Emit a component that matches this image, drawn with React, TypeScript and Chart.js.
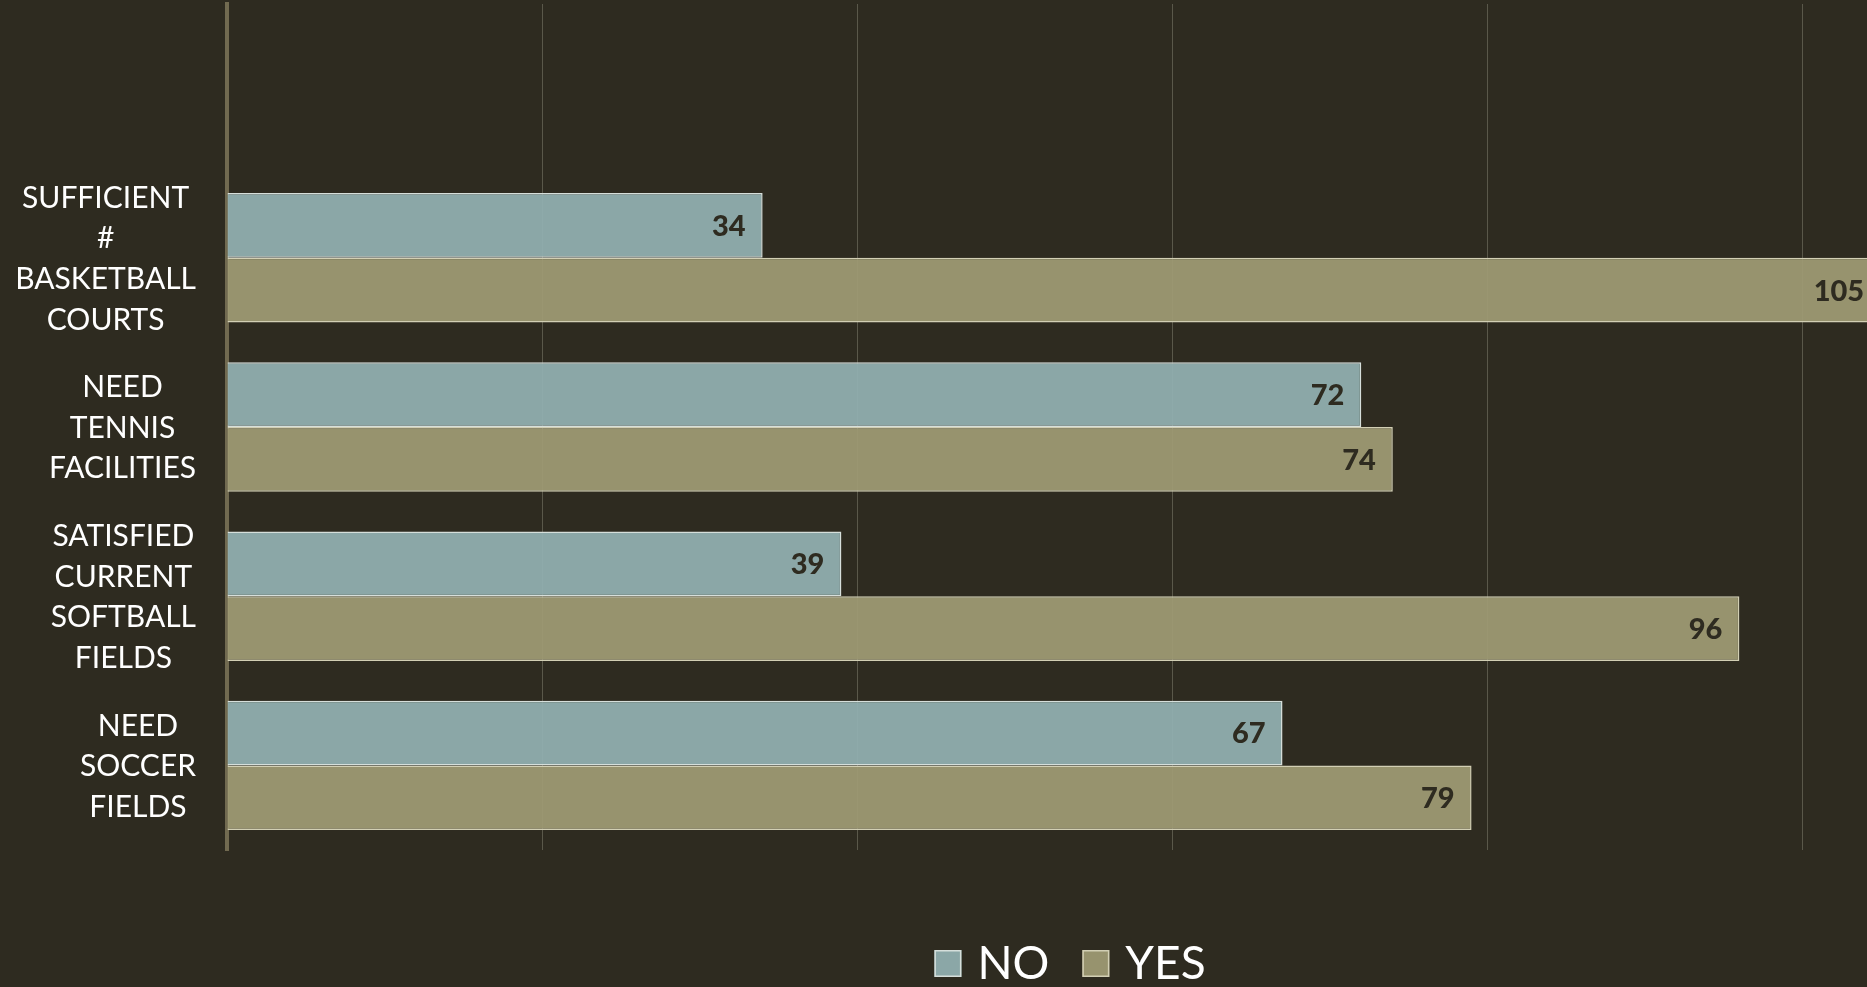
import React, { useEffect, useRef } from "react";
import { Chart, registerables } from "chart.js";

Chart.register(...registerables);

// ---- data ----
const categories: string[][] = [
  [""],
  ["SUFFICIENT", "#", "BASKETBALL", "COURTS"],
  ["NEED", "TENNIS", "FACILITIES"],
  ["SATISFIED", "CURRENT", "SOFTBALL", "FIELDS"],
  ["NEED", "SOCCER", "FIELDS"],
];
const noValues: (number | null)[] = [null, 34, 72, 39, 67];
const yesValues: (number | null)[] = [null, 105, 74, 96, 79];
const seriesNames = ["NO", "YES"];
const xTicks = [0, 20, 40, 60, 80, 100];
const xMax = 104.1;

// ---- styles ----
const BG = "#2e2b20";
const NO_FILL = "rgba(146,176,177,0.93)";
const NO_BORDER = "#d6dfdb";
const YES_FILL = "rgba(159,155,116,0.93)";
const YES_BORDER = "#d2cfb4";
const FONT = "Lato, 'Noto Sans', sans-serif";

const categoryLabelPlugin = {
  id: "categoryLabels",
  afterDraw(chart: any) {
    const { ctx } = chart;
    const yScale = chart.scales.y;
    const size = 30;
    const lh = 40.6;
    const rightEdge = 196;
    ctx.save();
    ctx.font = `${size}px ${FONT}`;
    ctx.fillStyle = "#ffffff";
    ctx.textAlign = "center";
    ctx.textBaseline = "alphabetic";
    categories.forEach((lines, i) => {
      const yc = yScale.getPixelForValue(i);
      const maxW = Math.max(...lines.map((l) => ctx.measureText(l).width));
      const cx = rightEdge - maxW / 2;
      const y0 = yc - ((lines.length - 1) * lh) / 2;
      lines.forEach((l, k) => {
        ctx.fillText(l, cx, y0 + k * lh + size * 0.36);
      });
    });
    ctx.restore();
  },
};

const valueLabelPlugin = {
  id: "valueLabels",
  afterDatasetsDraw(chart: any) {
    const { ctx } = chart;
    const size = 29;
    ctx.save();
    ctx.font = `900 ${size}px ${FONT}`;
    ctx.fillStyle = "#2e2b20";
    ctx.textAlign = "right";
    ctx.textBaseline = "alphabetic";
    chart.data.datasets.forEach((ds: any, di: number) => {
      const meta = chart.getDatasetMeta(di);
      meta.data.forEach((el: any, i: number) => {
        const v = ds.data[i];
        if (v === null || v === undefined) return;
        ctx.fillText(String(v), el.x - 17, el.y + size * 0.36);
      });
    });
    ctx.restore();
  },
};

const legendPlugin = {
  id: "customLegend",
  afterDraw(chart: any) {
    const { ctx } = chart;
    const size = 46;
    const box = 27;
    const gapText = 16;
    const gapItem = 33;
    const centerX = 1070;
    const boxTop = 950;
    const baseline = 979;
    ctx.save();
    ctx.font = `${size}px ${FONT}`;
    const items = chart.data.datasets.map((ds: any) => ({
      label: ds.label,
      fill: ds.backgroundColor,
      border: ds.borderColor,
      w: ctx.measureText(ds.label).width,
    }));
    const total =
      items.reduce((s: number, it: any) => s + box + gapText + it.w, 0) +
      gapItem * (items.length - 1);
    let x = centerX - total / 2;
    items.forEach((it: any) => {
      ctx.fillStyle = BG;
      ctx.fillRect(x, boxTop, box, box);
      ctx.fillStyle = it.fill;
      ctx.fillRect(x, boxTop, box, box);
      ctx.strokeStyle = it.border;
      ctx.lineWidth = 1.5;
      ctx.strokeRect(x + 0.75, boxTop + 0.75, box - 1.5, box - 1.5);
      x += box + gapText;
      ctx.fillStyle = "#ffffff";
      ctx.textAlign = "left";
      ctx.textBaseline = "alphabetic";
      ctx.fillText(it.label, x, baseline);
      x += it.w + gapItem;
    });
    ctx.restore();
  },
};

export default function App() {
  const canvasRef = useRef<HTMLCanvasElement | null>(null);

  useEffect(() => {
    document.body.style.margin = "0";
    document.body.style.background = BG;
    const canvas = canvasRef.current;
    if (!canvas) return;
    const chart = new Chart(canvas, {
      type: "bar",
      data: {
        labels: categories.map((c) => c.join(" ")),
        datasets: [
          {
            label: seriesNames[0],
            data: noValues,
            backgroundColor: NO_FILL,
            borderColor: NO_BORDER,
            borderWidth: 1.5,
            categoryPercentage: 0.765,
            barPercentage: 1.0,
          },
          {
            label: seriesNames[1],
            data: yesValues,
            backgroundColor: YES_FILL,
            borderColor: YES_BORDER,
            borderWidth: 1.5,
            categoryPercentage: 0.765,
            barPercentage: 1.0,
          },
        ],
      },
      options: {
        indexAxis: "y",
        animation: false,
        responsive: false,
        maintainAspectRatio: false,
        devicePixelRatio: 1,
        layout: { padding: { left: 227, top: 4, right: 0, bottom: 137 } },
        plugins: {
          legend: { display: false },
          tooltip: { enabled: false },
        },
        scales: {
          x: {
            type: "linear",
            min: 0,
            max: xMax,
            afterBuildTicks: (scale: any) => {
              scale.ticks = xTicks.map((v) => ({ value: v }));
            },
            ticks: { display: false },
            grid: {
              display: true,
              color: "#5a584a",
              lineWidth: 1,
              drawTicks: false,
            },
            border: { display: false },
          },
          y: {
            type: "category",
            ticks: { display: false },
            grid: { display: true, color: "rgba(0,0,0,0)", drawTicks: false },
            border: { display: true, color: "#716a50", width: 4 },
          },
        },
      },
      plugins: [categoryLabelPlugin, valueLabelPlugin, legendPlugin],
    } as any);
    return () => chart.destroy();
  }, []);

  return (
    <div style={{ width: 1867, height: 987, background: BG, overflow: "hidden" }}>
      <canvas ref={canvasRef} width={1867} height={987} style={{ display: "block" }} />
    </div>
  );
}
